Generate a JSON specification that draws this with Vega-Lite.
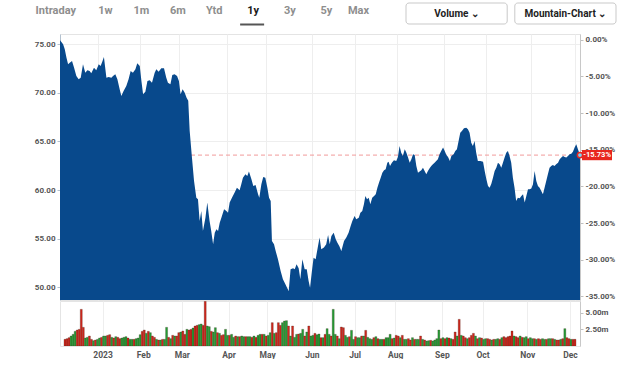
{
"$schema": "https://vega.github.io/schema/vega-lite/v6.json",
"padding": {"left": 33, "top": 2, "right": 0, "bottom": 0},
"bounds": "flush",
"spacing": 10,
"config": {
  "font": "Roboto",
  "view": {"stroke": null},
  "axis": {"labelFont": "Roboto", "labelFontSize": 8, "labelFontWeight": "bold", "labelColor": "#555555", "tickColor": "#c0c0c0", "tickSize": 3, "labelPadding": 2, "gridColor": "#eeeeee", "domainColor": "#c8c8c8", "title": null}
},
"datasets": {
  "tabs": [{"tab":"Intraday","sel":"n"},{"tab":"1w","sel":"n"},{"tab":"1m","sel":"n"},{"tab":"6m","sel":"n"},{"tab":"Ytd","sel":"n"},{"tab":"1y","sel":"y"},{"tab":"3y","sel":"n"},{"tab":"5y","sel":"n"},{"tab":"Max","sel":"n"}],
  "buttons": [{"btn":"Volume","txt":"Volume ⌄"},{"btn":"Mountain-Chart","txt":"Mountain-Chart ⌄"}],
  "last": [{"t":251,"p":63.6,"pct":-0.1573,"label":"-15.73%"}],
  "price": [
{"t":0,"p":75.41},{"t":0.3,"p":75.34},{"t":1.5,"p":75.0},{"t":2.3,"p":74.48},{"t":3.1,"p":73.63},{"t":3.9,"p":72.94},{"t":4.7,"p":73.11},{"t":5.8,"p":73.28},{"t":6.8,"p":72.6},{"t":7.9,"p":71.74},{"t":9.0,"p":71.4},{"t":10.0,"p":71.57},{"t":11.1,"p":72.94},{"t":12.2,"p":72.08},{"t":13.2,"p":72.32},{"t":14.3,"p":72.25},{"t":15.1,"p":72.01},{"t":16.4,"p":72.6},{"t":17.5,"p":72.32},{"t":18.7,"p":72.94},{"t":19.6,"p":72.77},{"t":20.4,"p":73.21},{"t":21.2,"p":73.69},{"t":22.4,"p":71.57},{"t":23.5,"p":71.64},{"t":24.8,"p":71.57},{"t":25.6,"p":71.74},{"t":26.7,"p":71.91},{"t":27.7,"p":71.4},{"t":28.8,"p":70.37},{"t":29.6,"p":69.68},{"t":30.7,"p":70.2},{"t":32.0,"p":70.71},{"t":33.1,"p":71.4},{"t":34.1,"p":72.25},{"t":35.2,"p":72.08},{"t":36.4,"p":72.43},{"t":37.3,"p":73.04},{"t":38.5,"p":72.77},{"t":39.3,"p":71.22},{"t":40.1,"p":69.85},{"t":41.2,"p":70.13},{"t":42.2,"p":71.22},{"t":43.3,"p":71.29},{"t":44.4,"p":71.05},{"t":45.7,"p":72.08},{"t":46.5,"p":72.43},{"t":47.6,"p":72.18},{"t":48.9,"p":72.53},{"t":50.2,"p":72.53},{"t":51.3,"p":71.57},{"t":52.1,"p":71.05},{"t":53.3,"p":70.88},{"t":54.2,"p":71.84},{"t":55.3,"p":71.91},{"t":56.5,"p":71.74},{"t":57.4,"p":71.22},{"t":58.2,"p":69.85},{"t":59.2,"p":70.37},{"t":60.2,"p":70.02},{"t":61.1,"p":69.51},{"t":61.9,"p":69.2},
{"t":62.6,"p":66.08},{"t":63.7,"p":63.33},{"t":64.7,"p":60.94},{"t":65.8,"p":59.22},{"t":66.6,"p":59.05},{"t":67.4,"p":56.82},{"t":68.2,"p":57.85},{"t":69.0,"p":55.79},{"t":70.2,"p":57.16},{"t":71.1,"p":58.71},{"t":72.2,"p":56.82},{"t":73.0,"p":55.79},{"t":73.9,"p":54.42},{"t":74.7,"p":55.62},{"t":75.5,"p":55.96},{"t":76.3,"p":55.79},{"t":77.1,"p":56.65},{"t":77.9,"p":57.16},{"t":79.2,"p":58.02},{"t":80.3,"p":57.85},{"t":81.1,"p":57.68},{"t":81.9,"p":58.71},{"t":83.0,"p":59.22},{"t":84.3,"p":59.74},{"t":85.4,"p":60.25},{"t":86.7,"p":59.98},{"t":87.5,"p":60.59},{"t":88.3,"p":61.28},{"t":89.5,"p":61.62},{"t":90.4,"p":61.45},{"t":91.2,"p":61.9},{"t":92.4,"p":61.11},{"t":93.3,"p":60.42},{"t":94.4,"p":60.52},{"t":95.6,"p":59.56},{"t":96.2,"p":59.22},{"t":97.2,"p":60.59},{"t":98.1,"p":61.35},{"t":99.1,"p":61.28},{"t":100.1,"p":60.25},{"t":100.9,"p":59.22},{"t":101.7,"p":58.88},{"t":102.3,"p":54.76},{"t":103.3,"p":54.42},{"t":104.1,"p":53.73},{"t":105.2,"p":52.88},{"t":106.5,"p":51.68},{"t":107.6,"p":50.82},{"t":108.8,"p":50.31},{"t":109.6,"p":49.96},{"t":110.4,"p":49.62},{"t":111.3,"p":51.85},{"t":112.5,"p":51.95},{"t":113.3,"p":51.85},{"t":114.2,"p":52.36},{"t":115.2,"p":51.95},{"t":116.0,"p":50.82},{"t":117.0,"p":52.88},{"t":118.1,"p":51.85},{"t":119.1,"p":51.85},{"t":120.0,"p":50.65},{"t":120.7,"p":49.96},{"t":121.6,"p":51.68},{"t":122.4,"p":53.05},{"t":123.4,"p":52.88},{"t":124.5,"p":54.2},
{"t":125.3,"p":55.11},{"t":126.1,"p":53.91},{"t":127.4,"p":54.08},{"t":128.5,"p":54.42},{"t":129.4,"p":55.38},{"t":130.2,"p":54.42},{"t":131.0,"p":55.28},{"t":132.1,"p":55.62},{"t":133.1,"p":54.93},{"t":133.9,"p":54.59},{"t":134.8,"p":54.25},{"t":135.8,"p":53.73},{"t":137.1,"p":54.76},{"t":138.2,"p":55.11},{"t":139.3,"p":55.62},{"t":140.3,"p":56.31},{"t":141.1,"p":56.82},{"t":142.2,"p":57.33},{"t":143.0,"p":56.99},{"t":144.2,"p":57.16},{"t":145.0,"p":57.68},{"t":145.9,"p":57.85},{"t":146.7,"p":58.54},{"t":147.4,"p":59.39},{"t":148.2,"p":59.05},{"t":149.0,"p":59.22},{"t":149.8,"p":58.54},{"t":150.7,"p":59.22},{"t":151.6,"p":59.39},{"t":152.4,"p":59.56},{"t":153.2,"p":60.25},{"t":154.0,"p":60.77},{"t":154.8,"p":61.28},{"t":155.6,"p":61.79},{"t":156.4,"p":62.03},{"t":157.2,"p":62.14},{"t":158.0,"p":62.82},{"t":158.6,"p":62.92},{"t":159.3,"p":62.48},{"t":160.2,"p":62.82},{"t":161.2,"p":63.06},{"t":162.3,"p":62.99},{"t":163.1,"p":63.41},{"t":163.9,"p":64.54},{"t":164.7,"p":63.85},{"t":165.5,"p":63.51},{"t":166.4,"p":64.19},{"t":167.2,"p":63.85},{"t":168.0,"p":63.34},{"t":168.8,"p":62.82},{"t":169.6,"p":63.17},{"t":170.4,"p":63.68},{"t":171.2,"p":63.61},{"t":172.0,"p":62.48},{"t":172.8,"p":61.79},{"t":173.6,"p":61.9},{"t":174.4,"p":62.03},{"t":175.2,"p":62.31},{"t":176.0,"p":61.97},{"t":176.8,"p":61.62},{"t":177.6,"p":61.97},{"t":178.4,"p":62.24},{"t":179.2,"p":62.48},{"t":180.0,"p":62.65},{"t":180.8,"p":62.82},{"t":181.6,"p":62.99},{"t":182.4,"p":63.17},{"t":183.2,"p":63.68},{"t":184.0,"p":64.02},{"t":184.9,"p":64.37},{"t":185.7,"p":64.02},{"t":186.5,"p":63.61},{"t":187.3,"p":63.41},{"t":188.2,"p":63.0},
{"t":188.9,"p":63.51},{"t":190.0,"p":63.68},{"t":190.8,"p":64.02},{"t":191.6,"p":64.19},{"t":192.4,"p":65.05},{"t":193.2,"p":65.91},{"t":194.0,"p":66.08},{"t":195.0,"p":66.35},{"t":196.1,"p":66.42},{"t":196.9,"p":66.25},{"t":197.7,"p":65.91},{"t":198.5,"p":64.88},{"t":199.3,"p":64.54},{"t":200.1,"p":65.05},{"t":200.9,"p":63.85},{"t":201.7,"p":63.0},{"t":202.9,"p":63.0},{"t":204.2,"p":62.92},{"t":205.0,"p":61.97},{"t":205.8,"p":61.11},{"t":206.6,"p":60.42},{"t":207.4,"p":60.25},{"t":208.2,"p":60.66},{"t":209.0,"p":61.28},{"t":209.8,"p":61.97},{"t":210.6,"p":62.31},{"t":211.4,"p":62.82},{"t":212.2,"p":62.65},{"t":213.0,"p":62.31},{"t":213.8,"p":62.82},{"t":214.6,"p":63.34},{"t":215.4,"p":63.85},{"t":216.2,"p":64.02},{"t":217.0,"p":63.51},{"t":217.8,"p":62.82},{"t":218.6,"p":61.28},{"t":219.4,"p":60.25},{"t":220.2,"p":58.88},{"t":221.0,"p":59.22},{"t":221.9,"p":59.15},{"t":222.7,"p":59.39},{"t":223.5,"p":59.56},{"t":224.3,"p":58.71},{"t":225.1,"p":59.39},{"t":225.9,"p":60.08},{"t":226.7,"p":60.08},{"t":227.5,"p":60.15},{"t":228.3,"p":60.59},{"t":229.1,"p":61.97},{"t":229.9,"p":60.94},{"t":230.7,"p":60.42},{"t":231.5,"p":60.25},{"t":232.3,"p":59.91},{"t":233.1,"p":59.56},{"t":233.9,"p":60.25},{"t":234.7,"p":60.94},{"t":235.5,"p":61.62},{"t":236.3,"p":62.31},{"t":237.1,"p":62.48},{"t":237.9,"p":62.58},{"t":238.7,"p":62.48},{"t":239.5,"p":62.65},{"t":240.4,"p":62.82},{"t":241.2,"p":63.17},{"t":242.0,"p":63.34},{"t":242.8,"p":63.51},{"t":243.6,"p":63.41},{"t":244.4,"p":63.34},{"t":245.2,"p":63.51},{"t":246.0,"p":63.68},{"t":246.8,"p":63.75},{"t":247.6,"p":63.95},{"t":248.4,"p":64.37},{"t":249.2,"p":64.71},{"t":250.0,"p":64.19},{"t":251.0,"p":63.6}
  ],
  "vol": [
{"i":0,"v":1.0,"dir":"down"},{"i":1,"v":1.1,"dir":"down"},{"i":2,"v":1.25,"dir":"down"},{"i":3,"v":1.5,"dir":"up"},{"i":4,"v":1.75,"dir":"up"},{"i":5,"v":2.2,"dir":"up"},{"i":6,"v":2.4,"dir":"down"},{"i":7,"v":2.5,"dir":"down"},{"i":8,"v":5.5,"dir":"down"},{"i":9,"v":2.8,"dir":"down"},
{"i":10,"v":1.2,"dir":"up"},{"i":11,"v":1.3,"dir":"up"},{"i":12,"v":1.5,"dir":"down"},{"i":13,"v":1.0,"dir":"down"},{"i":14,"v":0.8,"dir":"up"},{"i":15,"v":0.9,"dir":"down"},{"i":16,"v":1.0,"dir":"up"},{"i":17,"v":1.2,"dir":"up"},{"i":18,"v":1.3,"dir":"down"},{"i":19,"v":1.5,"dir":"up"},
{"i":20,"v":1.5,"dir":"up"},{"i":21,"v":1.6,"dir":"down"},{"i":22,"v":1.7,"dir":"down"},{"i":23,"v":1.3,"dir":"up"},{"i":24,"v":1.2,"dir":"down"},{"i":25,"v":1.4,"dir":"up"},{"i":26,"v":1.3,"dir":"down"},{"i":27,"v":1.1,"dir":"down"},{"i":28,"v":1.2,"dir":"up"},{"i":29,"v":1.3,"dir":"up"},
{"i":30,"v":1.4,"dir":"up"},{"i":31,"v":1.2,"dir":"down"},{"i":32,"v":1.0,"dir":"up"},{"i":33,"v":1.0,"dir":"up"},{"i":34,"v":1.0,"dir":"down"},{"i":35,"v":1.1,"dir":"up"},{"i":36,"v":1.2,"dir":"up"},{"i":37,"v":1.7,"dir":"up"},{"i":38,"v":2.2,"dir":"down"},{"i":39,"v":2.4,"dir":"down"},
{"i":40,"v":1.9,"dir":"up"},{"i":41,"v":2.2,"dir":"down"},{"i":42,"v":2.0,"dir":"up"},{"i":43,"v":1.5,"dir":"down"},{"i":44,"v":1.3,"dir":"down"},{"i":45,"v":1.0,"dir":"up"},{"i":46,"v":0.9,"dir":"down"},{"i":47,"v":0.9,"dir":"up"},{"i":48,"v":1.0,"dir":"down"},{"i":49,"v":1.0,"dir":"up"},
{"i":50,"v":2.8,"dir":"up"},{"i":51,"v":1.3,"dir":"down"},{"i":52,"v":1.1,"dir":"up"},{"i":53,"v":1.6,"dir":"down"},{"i":54,"v":1.5,"dir":"up"},{"i":55,"v":1.5,"dir":"down"},{"i":56,"v":2.0,"dir":"down"},{"i":57,"v":2.1,"dir":"up"},{"i":58,"v":2.25,"dir":"down"},{"i":59,"v":1.75,"dir":"down"},
{"i":60,"v":2.5,"dir":"up"},{"i":61,"v":2.4,"dir":"down"},{"i":62,"v":2.5,"dir":"down"},{"i":63,"v":2.7,"dir":"up"},{"i":64,"v":3.0,"dir":"down"},{"i":65,"v":3.1,"dir":"down"},{"i":66,"v":3.2,"dir":"up"},{"i":67,"v":3.3,"dir":"up"},{"i":68,"v":3.1,"dir":"down"},{"i":69,"v":6.7,"dir":"down"},
{"i":70,"v":3.0,"dir":"up"},{"i":71,"v":2.9,"dir":"up"},{"i":72,"v":2.2,"dir":"down"},{"i":73,"v":2.1,"dir":"up"},{"i":74,"v":2.75,"dir":"up"},{"i":75,"v":2.0,"dir":"down"},{"i":76,"v":1.9,"dir":"up"},{"i":77,"v":1.6,"dir":"down"},{"i":78,"v":1.7,"dir":"down"},{"i":79,"v":2.5,"dir":"up"},
{"i":80,"v":1.6,"dir":"up"},{"i":81,"v":1.6,"dir":"down"},{"i":82,"v":1.75,"dir":"up"},{"i":83,"v":1.3,"dir":"up"},{"i":84,"v":1.5,"dir":"down"},{"i":85,"v":1.4,"dir":"up"},{"i":86,"v":1.4,"dir":"down"},{"i":87,"v":1.5,"dir":"up"},{"i":88,"v":1.4,"dir":"up"},{"i":89,"v":1.4,"dir":"down"},
{"i":90,"v":1.4,"dir":"up"},{"i":91,"v":1.4,"dir":"up"},{"i":92,"v":1.3,"dir":"down"},{"i":93,"v":1.5,"dir":"up"},{"i":94,"v":1.3,"dir":"down"},{"i":95,"v":1.6,"dir":"up"},{"i":96,"v":1.75,"dir":"up"},{"i":97,"v":1.75,"dir":"down"},{"i":98,"v":1.75,"dir":"up"},{"i":99,"v":1.5,"dir":"down"},
{"i":100,"v":1.6,"dir":"up"},{"i":101,"v":2.0,"dir":"up"},{"i":102,"v":3.5,"dir":"down"},{"i":103,"v":1.9,"dir":"up"},{"i":104,"v":2.0,"dir":"down"},{"i":105,"v":3.5,"dir":"down"},{"i":106,"v":3.1,"dir":"down"},{"i":107,"v":3.5,"dir":"up"},{"i":108,"v":3.75,"dir":"up"},{"i":109,"v":3.8,"dir":"up"},
{"i":110,"v":3.0,"dir":"down"},{"i":111,"v":1.5,"dir":"up"},{"i":112,"v":3.0,"dir":"down"},{"i":113,"v":1.3,"dir":"up"},{"i":114,"v":1.75,"dir":"up"},{"i":115,"v":1.8,"dir":"down"},{"i":116,"v":1.9,"dir":"up"},{"i":117,"v":2.5,"dir":"up"},{"i":118,"v":1.5,"dir":"down"},{"i":119,"v":2.1,"dir":"up"},
{"i":120,"v":3.0,"dir":"down"},{"i":121,"v":1.5,"dir":"up"},{"i":122,"v":1.6,"dir":"up"},{"i":123,"v":1.9,"dir":"down"},{"i":124,"v":1.7,"dir":"up"},{"i":125,"v":1.8,"dir":"up"},{"i":126,"v":1.25,"dir":"down"},{"i":127,"v":1.25,"dir":"up"},{"i":128,"v":1.75,"dir":"down"},{"i":129,"v":2.6,"dir":"up"},
{"i":130,"v":1.75,"dir":"up"},{"i":131,"v":1.5,"dir":"down"},{"i":132,"v":5.5,"dir":"up"},{"i":133,"v":1.75,"dir":"up"},{"i":134,"v":1.5,"dir":"down"},{"i":135,"v":1.1,"dir":"up"},{"i":136,"v":2.85,"dir":"down"},{"i":137,"v":2.75,"dir":"down"},{"i":138,"v":1.6,"dir":"up"},{"i":139,"v":1.3,"dir":"up"},
{"i":140,"v":1.4,"dir":"down"},{"i":141,"v":2.35,"dir":"up"},{"i":142,"v":1.0,"dir":"up"},{"i":143,"v":1.4,"dir":"down"},{"i":144,"v":1.25,"dir":"up"},{"i":145,"v":1.25,"dir":"up"},{"i":146,"v":1.5,"dir":"down"},{"i":147,"v":1.5,"dir":"up"},{"i":148,"v":2.35,"dir":"down"},{"i":149,"v":1.3,"dir":"up"},
{"i":150,"v":1.1,"dir":"up"},{"i":151,"v":1.0,"dir":"up"},{"i":152,"v":1.25,"dir":"down"},{"i":153,"v":1.4,"dir":"up"},{"i":154,"v":1.1,"dir":"down"},{"i":155,"v":1.0,"dir":"up"},{"i":156,"v":1.0,"dir":"up"},{"i":157,"v":1.0,"dir":"down"},{"i":158,"v":1.25,"dir":"up"},{"i":159,"v":1.25,"dir":"up"},
{"i":160,"v":1.75,"dir":"up"},{"i":161,"v":1.1,"dir":"down"},{"i":162,"v":1.2,"dir":"up"},{"i":163,"v":1.6,"dir":"down"},{"i":164,"v":1.5,"dir":"down"},{"i":165,"v":1.25,"dir":"up"},{"i":166,"v":1.6,"dir":"down"},{"i":167,"v":1.0,"dir":"up"},{"i":168,"v":1.0,"dir":"up"},{"i":169,"v":1.1,"dir":"down"},
{"i":170,"v":0.9,"dir":"down"},{"i":171,"v":1.25,"dir":"up"},{"i":172,"v":1.0,"dir":"down"},{"i":173,"v":1.0,"dir":"up"},{"i":174,"v":1.0,"dir":"up"},{"i":175,"v":1.5,"dir":"down"},{"i":176,"v":1.0,"dir":"up"},{"i":177,"v":0.9,"dir":"down"},{"i":178,"v":0.75,"dir":"up"},{"i":179,"v":0.8,"dir":"up"},
{"i":180,"v":0.85,"dir":"down"},{"i":181,"v":0.75,"dir":"up"},{"i":182,"v":0.9,"dir":"up"},{"i":183,"v":1.1,"dir":"up"},{"i":184,"v":2.4,"dir":"up"},{"i":185,"v":1.1,"dir":"down"},{"i":186,"v":1.25,"dir":"up"},{"i":187,"v":1.1,"dir":"down"},{"i":188,"v":1.25,"dir":"up"},{"i":189,"v":1.2,"dir":"down"},
{"i":190,"v":1.1,"dir":"up"},{"i":191,"v":1.0,"dir":"down"},{"i":192,"v":2.1,"dir":"down"},{"i":193,"v":1.5,"dir":"up"},{"i":194,"v":4.0,"dir":"down"},{"i":195,"v":1.6,"dir":"up"},{"i":196,"v":1.5,"dir":"down"},{"i":197,"v":1.25,"dir":"down"},{"i":198,"v":1.1,"dir":"up"},{"i":199,"v":1.25,"dir":"down"},
{"i":200,"v":1.6,"dir":"down"},{"i":201,"v":1.9,"dir":"down"},{"i":202,"v":1.5,"dir":"up"},{"i":203,"v":1.1,"dir":"down"},{"i":204,"v":1.25,"dir":"up"},{"i":205,"v":1.2,"dir":"down"},{"i":206,"v":1.0,"dir":"up"},{"i":207,"v":1.1,"dir":"up"},{"i":208,"v":1.1,"dir":"down"},{"i":209,"v":1.0,"dir":"down"},
{"i":210,"v":0.9,"dir":"up"},{"i":211,"v":1.0,"dir":"down"},{"i":212,"v":1.0,"dir":"up"},{"i":213,"v":1.1,"dir":"up"},{"i":214,"v":1.0,"dir":"down"},{"i":215,"v":1.25,"dir":"up"},{"i":216,"v":1.4,"dir":"down"},{"i":217,"v":1.25,"dir":"down"},{"i":218,"v":1.4,"dir":"down"},{"i":219,"v":1.5,"dir":"down"},
{"i":220,"v":2.25,"dir":"down"},{"i":221,"v":1.5,"dir":"up"},{"i":222,"v":1.4,"dir":"down"},{"i":223,"v":1.25,"dir":"down"},{"i":224,"v":1.5,"dir":"up"},{"i":225,"v":1.3,"dir":"down"},{"i":226,"v":1.25,"dir":"up"},{"i":227,"v":1.4,"dir":"up"},{"i":228,"v":1.1,"dir":"down"},{"i":229,"v":1.25,"dir":"up"},
{"i":230,"v":1.1,"dir":"up"},{"i":231,"v":1.1,"dir":"down"},{"i":232,"v":1.0,"dir":"up"},{"i":233,"v":1.1,"dir":"down"},{"i":234,"v":1.0,"dir":"down"},{"i":235,"v":1.1,"dir":"up"},{"i":236,"v":1.0,"dir":"up"},{"i":237,"v":1.0,"dir":"down"},{"i":238,"v":1.1,"dir":"up"},{"i":239,"v":1.1,"dir":"up"},
{"i":240,"v":1.1,"dir":"down"},{"i":241,"v":1.0,"dir":"up"},{"i":242,"v":0.9,"dir":"down"},{"i":243,"v":0.9,"dir":"down"},{"i":244,"v":1.0,"dir":"up"},{"i":245,"v":1.1,"dir":"down"},{"i":246,"v":2.6,"dir":"up"},{"i":247,"v":1.25,"dir":"down"},{"i":248,"v":1.1,"dir":"down"},{"i":249,"v":1.0,"dir":"up"},
{"i":250,"v":1.0,"dir":"down"},{"i":251,"v":1.0,"dir":"down"}
  ]
},
"vconcat": [
  {
    "width": 520, "height": 21,
    "resolve": {"scale": {"x": "independent"}},
    "layer": [
      {
        "data": {"name": "tabs"},
        "layer": [
          {
            "mark": {"type": "text", "align": "right", "dy": -3, "fontSize": 11, "fontWeight": "bold", "font": "Roboto"},
            "encoding": {
              "x": {"field": "tab", "type": "nominal", "sort": null, "scale": {"type": "point", "range": [16, 309], "padding": 0}, "axis": null},
              "text": {"field": "tab"},
              "color": {"field": "sel", "type": "nominal", "scale": {"domain": ["n", "y"], "range": ["#8e8e8e", "#1a1a1a"]}, "legend": null}
            }
          },
          {
            "mark": {"type": "point", "shape": "M-0.95,0.5H0.25V0.6H-0.95Z", "filled": true, "size": 1600, "color": "#555555"},
            "encoding": {
              "x": {"field": "tab", "type": "nominal", "sort": null, "scale": {"type": "point", "range": [16, 309], "padding": 0}, "axis": null},
              "opacity": {"field": "sel", "type": "nominal", "scale": {"domain": ["n", "y"], "range": [0, 1]}, "legend": null}
            }
          }
        ]
      },
      {
        "data": {"name": "buttons"},
        "layer": [
          {
            "mark": {"type": "rect", "fill": "#ffffff", "stroke": "#c9c9c9", "strokeWidth": 1, "cornerRadius": 3},
            "encoding": {
              "x": {"field": "btn", "type": "nominal", "sort": null, "scale": {"type": "band", "range": [346, 556], "paddingInner": 0.07, "paddingOuter": 0}, "axis": null}
            }
          },
          {
            "mark": {"type": "text", "fontSize": 10, "fontWeight": "bold", "color": "#222222", "font": "Roboto"},
            "encoding": {
              "x": {"field": "btn", "type": "nominal", "sort": null, "scale": {"type": "band", "range": [346, 556], "paddingInner": 0.07, "paddingOuter": 0}, "axis": null},
              "text": {"field": "txt"}
            }
          }
        ]
      }
    ]
  },
  {
    "spacing": 1,
    "bounds": "flush",
    "vconcat": [
      {
        "width": 520, "height": 266,
        "view": {"stroke": "#e4e4e4"},
        "resolve": {"scale": {"y": "independent"}},
        "layer": [
          {
            "data": {"name": "last"},
            "mark": {"type": "rule", "color": "#f19a9a", "strokeDash": [4, 3], "strokeWidth": 1},
            "encoding": {
              "y": {"field": "p", "type": "quantitative", "scale": {"domain": [48.69, 76.06], "nice": false, "zero": false}, "axis": null}
            }
          },
          {
            "data": {"name": "price"},
            "mark": {"type": "area", "color": "#08498c", "clip": true, "interpolate": "linear"},
            "encoding": {
              "x": {"field": "t", "type": "quantitative", "scale": {"domain": [0, 251], "nice": false, "zero": false},
                    "axis": {"values": [18.5, 38.5, 57.5, 80.5, 99.5, 121.5, 142.5, 162.5, 185.5, 205.5, 227.5, 248.5], "labels": false, "ticks": false, "domain": false, "grid": true}},
              "y": {"field": "p", "type": "quantitative", "scale": {"domain": [48.69, 76.06], "nice": false, "zero": false},
                    "axis": {"values": [50, 55, 60, 65, 70, 75], "format": ".2f", "grid": true, "domainColor": "#b3c1cf", "tickColor": "#b3c1cf"}}
            }
          },
          {
            "data": {"name": "last"},
            "mark": {"type": "point", "shape": "M0.0625,-0.16H1V0.16H0.0625Z", "filled": true, "size": 4096, "color": "#e8261e", "opacity": 1},
            "encoding": {
              "x": {"field": "t", "type": "quantitative"},
              "y": {"field": "p", "type": "quantitative", "scale": {"domain": [48.69, 76.06], "nice": false, "zero": false}, "axis": null}
            }
          },
          {
            "data": {"name": "last"},
            "mark": {"type": "text", "dx": 17, "color": "#ffffff", "fontSize": 7.5, "fontWeight": "bold", "font": "Roboto"},
            "encoding": {
              "x": {"field": "t", "type": "quantitative"},
              "y": {"field": "p", "type": "quantitative", "scale": {"domain": [48.69, 76.06], "nice": false, "zero": false}, "axis": null},
              "text": {"field": "label"}
            }
          },
          {
            "data": {"name": "last"},
            "mark": {"type": "point", "filled": true, "size": 28, "fill": "#7fd0f0", "stroke": "#e8261e", "strokeWidth": 1.5, "opacity": 1},
            "encoding": {
              "x": {"field": "t", "type": "quantitative"},
              "y": {"field": "p", "type": "quantitative", "scale": {"domain": [48.69, 76.06], "nice": false, "zero": false}, "axis": null}
            }
          },
          {
            "data": {"name": "last"},
            "mark": {"type": "rule", "opacity": 0},
            "encoding": {
              "y": {"field": "pct", "type": "quantitative", "scale": {"domain": [-0.3548, 0.0078], "nice": false, "zero": false},
                    "axis": {"orient": "right", "values": [0, -0.05, -0.1, -0.15, -0.2, -0.25, -0.3, -0.35], "labelExpr": "replace(format(datum.value, '.2%'), '−', '-')", "grid": false}}
            }
          }
        ]
      },
      {
        "width": 520, "height": 45,
        "view": {"stroke": "#e4e4e4"},
        "data": {"name": "vol"},
        "mark": {"type": "bar", "width": 2, "stroke": "#3a2418", "strokeWidth": 0.35, "strokeOpacity": 0.8, "clip": true},
        "encoding": {
          "x": {"field": "i", "type": "quantitative", "scale": {"domain": [0, 251], "nice": false, "zero": false},
                "axis": {"values": [18.5, 38.5, 57.5, 80.5, 99.5, 121.5, 142.5, 162.5, 185.5, 205.5, 227.5, 248.5],
                         "labelExpr": "datum.value < 20 ? '2023' : datum.value < 40 ? 'Feb' : datum.value < 60 ? 'Mar' : datum.value < 90 ? 'Apr' : datum.value < 110 ? 'May' : datum.value < 130 ? 'Jun' : datum.value < 150 ? 'Jul' : datum.value < 170 ? 'Aug' : datum.value < 195 ? 'Sep' : datum.value < 215 ? 'Oct' : datum.value < 235 ? 'Nov' : 'Dec'",
                         "grid": true, "ticks": false, "domain": false, "labelPadding": 4, "labelFontSize": 8.5}},
          "y": {"field": "v", "type": "quantitative", "scale": {"domain": [0, 6.75], "nice": false},
                "axis": {"orient": "right", "values": [2.5, 5], "labelExpr": "format(datum.value, '.2f') + 'm'", "grid": false}},
          "fill": {"field": "dir", "type": "nominal", "scale": {"domain": ["down", "up"], "range": ["#d3261c", "#23a035"]}, "legend": null}
        }
      }
    ]
  }
]
}
